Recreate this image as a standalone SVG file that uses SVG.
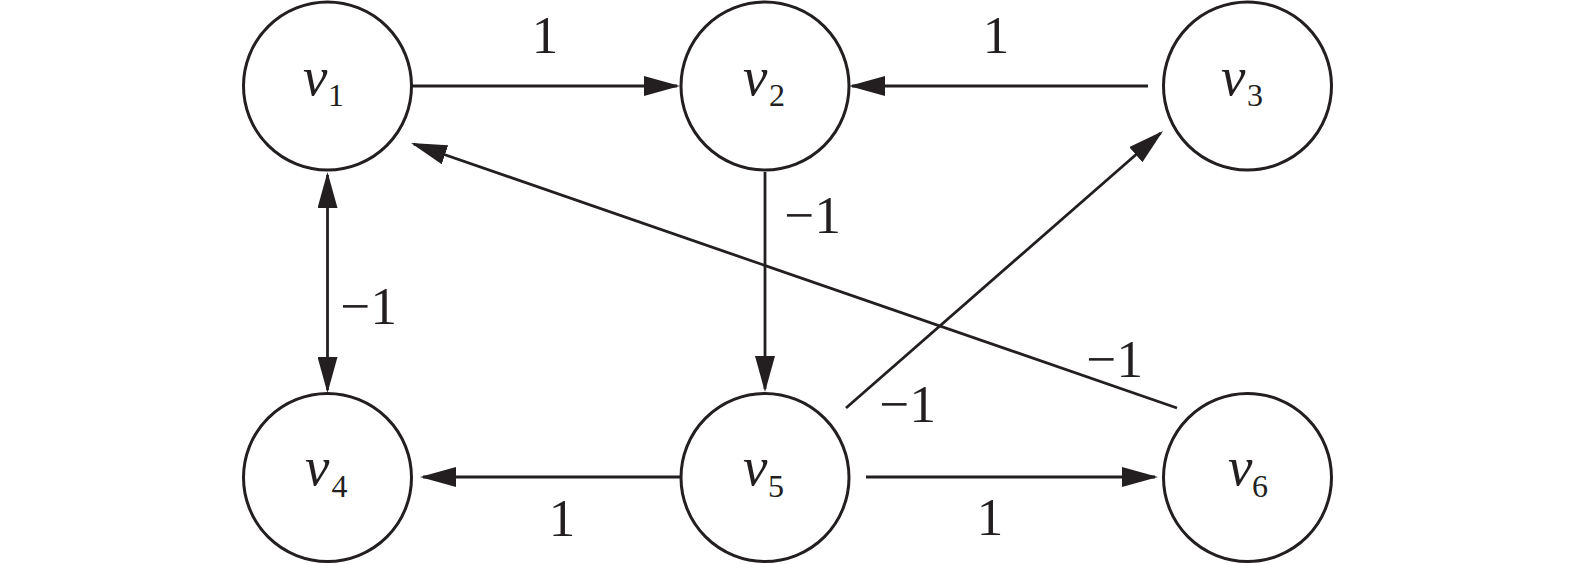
<svg xmlns="http://www.w3.org/2000/svg" width="1575" height="564" viewBox="0 0 1575 564">
<style>
.node{fill:#fff;stroke:#231f20;stroke-width:3}
.edge{fill:none;stroke:#231f20;stroke-width:2.8}
.v{font-family:"Liberation Serif",serif;font-style:italic;font-size:55px;fill:#231f20}
.sub{font-family:"Liberation Serif",serif;font-size:32px;fill:#231f20;text-anchor:middle}
.lbl{font-family:"Liberation Serif",serif;font-size:53px;fill:#231f20}
</style>
<defs>
<marker id="arr" viewBox="0 0 36 20" markerWidth="36" markerHeight="20" refX="33" refY="10" orient="auto-start-reverse" markerUnits="userSpaceOnUse">
<path d="M0,0 L36,10 L0,20 z" fill="#231f20"/>
</marker>
</defs>
<rect width="1575" height="564" fill="#fff"/>
<g id="connectors">
<line class="edge" x1="412" y1="86" x2="677" y2="86" marker-end="url(#arr)"/>
<line class="edge" x1="1148" y1="86" x2="852" y2="86" marker-end="url(#arr)"/>
<line class="edge" x1="765" y1="172" x2="765" y2="389" marker-end="url(#arr)"/>
<line class="edge" x1="327.5" y1="175" x2="327.5" y2="390" marker-start="url(#arr)" marker-end="url(#arr)"/>
<line class="edge" x1="680" y1="477" x2="423" y2="477" marker-end="url(#arr)"/>
<line class="edge" x1="866" y1="477" x2="1155" y2="477" marker-end="url(#arr)"/>
<line class="edge" x1="846" y1="408" x2="1160.7" y2="133" marker-end="url(#arr)"/>
<line class="edge" x1="1177" y1="408" x2="413.8" y2="144" marker-end="url(#arr)"/>
<text class="lbl" x="545" y="53" text-anchor="middle">1</text>
<text class="lbl" x="996" y="53" text-anchor="middle">1</text>
<text class="lbl" x="562" y="536" text-anchor="middle">1</text>
<text class="lbl" x="990" y="535" text-anchor="middle">1</text>
<text class="lbl" x="841" y="233" text-anchor="end">−1</text>
<text class="lbl" x="397" y="324" text-anchor="end">−1</text>
<text class="lbl" x="1143" y="377" text-anchor="end">−1</text>
<text class="lbl" x="936" y="422" text-anchor="end">−1</text>
</g>
<g id="v1">
<circle class="node" cx="327.5" cy="86" r="84"/>
<text class="v" x="303" y="95">v</text><text class="sub" x="336" y="106">1</text>
</g>
<g id="v2">
<circle class="node" cx="765" cy="86" r="84"/>
<text class="v" x="743" y="95">v</text><text class="sub" x="777" y="106">2</text>
</g>
<g id="v3">
<circle class="node" cx="1247.5" cy="86" r="84"/>
<text class="v" x="1221" y="95">v</text><text class="sub" x="1255" y="106">3</text>
</g>
<g id="v4">
<circle class="node" cx="327.5" cy="477.5" r="84"/>
<text class="v" x="305" y="485">v</text><text class="sub" x="339.5" y="497">4</text>
</g>
<g id="v5">
<circle class="node" cx="765" cy="477.5" r="84"/>
<text class="v" x="743" y="485">v</text><text class="sub" x="776" y="497">5</text>
</g>
<g id="v6">
<circle class="node" cx="1247.5" cy="477.5" r="84"/>
<text class="v" x="1228" y="485">v</text><text class="sub" x="1260" y="497">6</text>
</g>
</svg>
